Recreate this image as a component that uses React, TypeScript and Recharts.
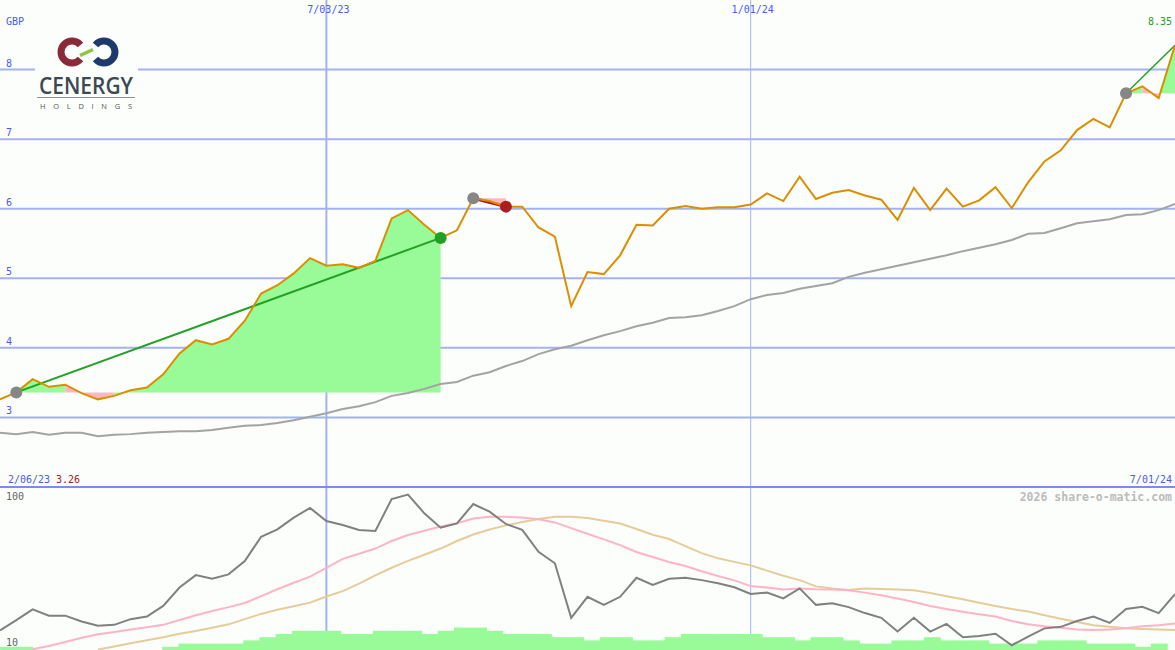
import { ComposedChart, Line, Area, Bar, XAxis, YAxis, CartesianGrid } from "recharts";

const W = 1175;
const MAIN_H = 487;
const LOW_H = 162;
const BG = "#fbfefb";
const GRID = "#a4b2f2";
const BLUE_TEXT = "#4a5af0";
const GREEN_FILL = "#98fb98";
const PINK_FILL = "#ffb6c1";

// weekly closes, GBP
const price = [
  3.26, 3.36, 3.55, 3.44, 3.47, 3.35, 3.26, 3.31, 3.39, 3.43,
  3.62, 3.92, 4.11, 4.05, 4.13, 4.39, 4.78, 4.9, 5.07, 5.29,
  5.18, 5.2, 5.15, 5.25, 5.86, 5.98, 5.77, 5.58, 5.69, 6.15,
  6.11, 6.03, 6.03, 5.73, 5.6, 4.6, 5.09, 5.06, 5.33, 5.77,
  5.76, 6.0, 6.04, 6.0, 6.02, 6.02, 6.06, 6.22, 6.11, 6.46,
  6.14, 6.23, 6.27, 6.19, 6.13, 5.84, 6.3, 5.98, 6.29, 6.03,
  6.12, 6.31, 6.01, 6.38, 6.68, 6.84, 7.13, 7.29, 7.17, 7.66,
  7.76, 7.59, 8.35,
];

// long moving average (grey)
const slowAvg = [
  2.78, 2.76, 2.79, 2.75, 2.78, 2.78, 2.73, 2.75, 2.76, 2.78,
  2.79, 2.8, 2.8, 2.82, 2.85, 2.88, 2.89, 2.92, 2.96, 3.01,
  3.06, 3.12, 3.16, 3.22, 3.31, 3.35, 3.41, 3.48, 3.51, 3.6,
  3.65, 3.74, 3.81, 3.91, 3.98, 4.03, 4.11, 4.18, 4.24, 4.31,
  4.36, 4.43, 4.44, 4.47, 4.53, 4.6, 4.7, 4.76, 4.79, 4.85,
  4.89, 4.93, 5.02, 5.08, 5.13, 5.18, 5.23, 5.28, 5.33, 5.39,
  5.44, 5.49, 5.55, 5.64, 5.65, 5.72, 5.79, 5.82, 5.85, 5.91,
  5.92, 5.98, 6.07,
];

// lower panel (log scale 10..100)
const relStrength = [
  13.2, 15.3, 17.8, 16.3, 16.3, 15.0, 14.1, 14.3, 15.5, 16.1,
  18.7, 24.3, 29.0, 27.5, 29.3, 35.4, 50.0, 55.6, 65.6, 75.3,
  62.5, 59.1, 55.1, 54.3, 85.5, 91.0, 69.8, 56.9, 60.5, 79.6,
  71.4, 60.0, 55.1, 40.4, 34.3, 15.8, 21.3, 19.0, 21.3, 27.9,
  25.2, 27.5, 27.9, 27.0, 25.8, 24.4, 22.2, 22.6, 20.8, 24.0,
  19.0, 19.4, 18.4, 16.9, 15.8, 13.0, 15.8, 13.0, 14.5, 12.0,
  12.2, 12.6, 10.7, 12.1, 13.6, 13.9, 15.1, 16.1, 14.7, 17.9,
  18.5, 16.9, 22.1,
];

const relFast = [
  null, null, 10.1, 10.6, 11.2, 11.9, 12.5, 12.9, 13.4, 13.8,
  14.3, 15.3, 16.4, 17.4, 18.4, 19.5, 21.5, 23.7, 26.0, 28.4,
  32.1, 36.5, 39.3, 42.3, 47.1, 51.3, 54.5, 57.8, 60.6, 64.8,
  66.4, 66.4, 65.8, 64.1, 61.3, 56.5, 52.2, 48.2, 44.4, 40.3,
  37.5, 34.9, 33.0, 30.6, 28.6, 26.9, 24.8, 24.3, 23.6, 24.0,
  23.7, 23.6, 23.4, 22.6, 21.8, 20.8, 19.8, 18.7, 17.9, 17.2,
  16.6, 16.1, 15.1, 14.4, 14.0, 13.7, 13.4, 13.3, 13.4, 13.6,
  14.0, 14.2, 14.6,
];

const relSlow = [
  null, null, null, null, null, null, 10.06, 10.5, 11.0, 11.5,
  12.0, 12.6, 13.1, 13.7, 14.4, 15.5, 16.7, 17.7, 18.6, 19.6,
  21.4, 23.1, 25.7, 28.9, 32.2, 35.5, 38.7, 42.3, 47.1, 51.6,
  55.5, 58.8, 61.6, 64.4, 66.5, 66.5, 65.3, 62.8, 60.4, 55.8,
  51.5, 48.4, 43.8, 39.6, 36.8, 35.0, 33.3, 30.9, 28.7, 27.0,
  24.7, 24.0, 23.5, 24.0, 23.8, 23.6, 23.4, 22.5, 21.5, 20.6,
  19.6, 18.7, 17.9, 17.3, 16.4, 15.6, 14.9, 14.2, 13.9, 13.6,
  13.5, 13.4, 13.3,
];

const volume = [
  1, 1, 0, 0, 0, 0, 0, 0, 0, 0,
  1, 2, 2, 2, 2, 3, 4, 5, 6, 6,
  6, 5, 5, 6, 6, 6, 5, 6, 7, 7,
  6, 5, 5, 5, 4, 4, 3, 4, 4, 3,
  3, 4, 5, 5, 5, 5, 5, 4, 4, 3,
  4, 4, 3, 2, 2, 3, 3, 4, 3, 3,
  3, 2, 2, 2, 3, 3, 3, 2, 2, 2,
  1, 2, null,
];

const priceTicks = [3, 4, 5, 6, 7, 8];
const dateLines = [
  { k: 20, label: "7/03/23", width: 2 },
  { k: 46, label: "1/01/24", width: 1 },
];
const firstDate = "2/06/23";
const lastDate = "7/01/24";

const trends = [
  { from: 1, to: 27, color: "#24a024", width: 2, end: "#22a022" as string | null },
  { from: 29, to: 31, color: "#a81c1c", width: 3, end: "#aa1e1e" as string | null },
  { from: 69, to: 72, color: "#24a024", width: 1.5, end: null as string | null },
];

const LAST = price.length - 1;
const Y_MIN = 2;
const Y_MAX = 9;
const yMain = (v: number) => ((Y_MAX - v) / (Y_MAX - Y_MIN)) * MAIN_H;
const xOf = (k: number) => (k / LAST) * W;

// fill runs between price and the level at the trend start
type Run = { t: number; color: string; from: number; to: number; base: number };
const runs: Run[] = [];
trends.forEach((t, ti) => {
  const base = price[t.from];
  for (let i = t.from; i < t.to; i++) {
    const color = price[i + 1] < base ? PINK_FILL : GREEN_FILL;
    const last = runs[runs.length - 1];
    if (last && last.t === ti && last.color === color && last.to === i) last.to = i + 1;
    else runs.push({ t: ti, color, from: i, to: i + 1, base });
  }
});

const rows = price.map((p, i) => {
  const row: Record<string, any> = {
    k: i,
    kb: i + 0.5,
    price: p,
    slow: slowAvg[i],
    rel: relStrength[i],
    relFast: relFast[i],
    relSlow: relSlow[i],
    vol: volume[i] ? volume[i] : null,
  };
  trends.forEach((t, ti) => {
    row[`trend${ti}`] = i === t.from || i === t.to ? p : null;
  });
  runs.forEach((r, ri) => {
    row[`run${ri}`] = i >= r.from && i <= r.to ? [r.base, p] : null;
  });
  return row;
});

const makeDot = (ti: number) => (props: any) => {
  const { cx, cy, index } = props;
  const t = trends[ti];
  if (cx == null || cy == null) return <g key={`n${ti}-${index}`} />;
  const fill = index === t.from ? "#868686" : index === t.to ? t.end : null;
  if (!fill) return <g key={`n${ti}-${index}`} />;
  return <circle key={`d${ti}-${index}`} cx={cx} cy={cy} r={6} fill={fill} />;
};

// weekly volume block spans a full week with no gap
const VolBlock = (p: any) => {
  if (!p.height || !isFinite(p.height)) return <g />;
  const bw = W / LAST;
  const cx = p.x + p.width / 2;
  return <rect x={cx - bw / 2} y={p.y} width={bw + 0.6} height={p.height} fill={GREEN_FILL} />;
};

function Logo() {
  return (
    <g>
      <rect x={35} y={30} width={103} height={82} fill={BG} />
      <path d="M 80.5 59 A 11 11 0 1 1 80.5 45" fill="none" stroke="#8a2a38" strokeWidth={7} />
      <path d="M 95.5 45 A 11 11 0 1 1 95.5 59" fill="none" stroke="#1e3a6d" strokeWidth={7} />
      <line x1={80} y1={55.5} x2={93} y2={49.5} stroke="#8cc63e" strokeWidth={3.5} />
      <text
        x={39}
        y={93.5}
        fontFamily="'Open Sans', sans-serif"
        fontWeight={600}
        fontSize={23.5}
        fill="#3c4954"
        textLength={94}
        lengthAdjust="spacingAndGlyphs"
      >
        CENERGY
      </text>
      <line x1={37} x2={135} y1={97.5} y2={97.5} stroke="#8a8f94" strokeWidth={1} />
      <text
        x={40}
        y={108.5}
        fontFamily="'Open Sans', sans-serif"
        fontSize={7.5}
        fill="#555"
        textLength={92}
        lengthAdjust="spacing"
      >
        HOLDINGS
      </text>
    </g>
  );
}

export default function App() {
  const mono = "'DejaVu Sans Mono', monospace";
  return (
    <div
      style={{
        position: "absolute",
        left: 0,
        top: 0,
        width: W,
        height: 650,
        background: BG,
        overflow: "hidden",
      }}
    >
      <div style={{ position: "absolute", left: 0, top: 0 }}>
        <ComposedChart width={W} height={MAIN_H} data={rows} margin={{ top: 0, right: 0, bottom: 0, left: 0 }}>
          <XAxis dataKey="k" type="number" domain={[0, LAST]} hide />
          <YAxis type="number" domain={[Y_MIN, Y_MAX]} hide allowDataOverflow />
          <CartesianGrid
            horizontalValues={priceTicks}
            verticalValues={dateLines.filter((d) => d.width === 2).map((d) => d.k)}
            stroke={GRID}
            strokeWidth={2}
          />
          <CartesianGrid
            horizontal={false}
            verticalValues={dateLines.filter((d) => d.width === 1).map((d) => d.k)}
            stroke={GRID}
            strokeWidth={1}
          />
          {runs.map((r, ri) => (
            <Area
              key={`run${ri}`}
              dataKey={`run${ri}`}
              type="linear"
              fill={r.color}
              fillOpacity={1}
              stroke="none"
              dot={false}
              activeDot={false}
              isAnimationActive={false}
            />
          ))}
          <Line
            dataKey="slow"
            type="linear"
            stroke="#a3a3a3"
            strokeWidth={2}
            dot={false}
            activeDot={false}
            isAnimationActive={false}
          />
          {trends.map((t, ti) => (
            <Line
              key={`trend${ti}`}
              dataKey={`trend${ti}`}
              type="linear"
              stroke={t.color}
              strokeWidth={t.width}
              connectNulls
              dot={makeDot(ti)}
              activeDot={false}
              isAnimationActive={false}
            />
          ))}
          <Line
            dataKey="price"
            type="linear"
            stroke="#dc8e00"
            strokeWidth={2}
            dot={false}
            activeDot={false}
            isAnimationActive={false}
          />
        </ComposedChart>
      </div>

      <div style={{ position: "absolute", left: 0, top: MAIN_H - 1, width: W, height: 2, background: "#7b8bf0" }} />

      <div style={{ position: "absolute", left: 0, top: MAIN_H + 1 }}>
        <ComposedChart width={W} height={LOW_H} data={rows} margin={{ top: 0, right: 0, bottom: 0, left: 0 }}>
          <XAxis dataKey="k" type="number" domain={[0, LAST]} hide />
          <XAxis xAxisId="bar" dataKey="kb" type="number" domain={[0, LAST]} hide />
          <YAxis scale="log" domain={[10, 100]} hide allowDataOverflow />
          <YAxis yAxisId="vol" type="number" domain={[0, 50.6]} hide />
          <CartesianGrid
            horizontal={false}
            verticalValues={dateLines.filter((d) => d.width === 2).map((d) => d.k)}
            stroke={GRID}
            strokeWidth={2}
          />
          <CartesianGrid
            horizontal={false}
            verticalValues={dateLines.filter((d) => d.width === 1).map((d) => d.k)}
            stroke={GRID}
            strokeWidth={1}
          />
          <Bar
            dataKey="vol"
            xAxisId="bar"
            yAxisId="vol"
            fill={GREEN_FILL}
            barSize={17}
            shape={VolBlock}
            isAnimationActive={false}
          />
          <Line
            dataKey="relSlow"
            type="linear"
            stroke="#e6cc9a"
            strokeWidth={2}
            dot={false}
            activeDot={false}
            isAnimationActive={false}
          />
          <Line
            dataKey="relFast"
            type="linear"
            stroke="#ffb3c6"
            strokeWidth={2}
            dot={false}
            activeDot={false}
            isAnimationActive={false}
          />
          <Line
            dataKey="rel"
            type="linear"
            stroke="#808080"
            strokeWidth={2}
            dot={false}
            activeDot={false}
            isAnimationActive={false}
          />
        </ComposedChart>
      </div>

      <svg
        width={W}
        height={650}
        style={{ position: "absolute", left: 0, top: 0, pointerEvents: "none" }}
        fontFamily={mono}
        fontSize={10}
      >
        <Logo />
        <text x={6} y={25} fill={BLUE_TEXT}>GBP</text>
        {priceTicks.map((v) => (
          <text key={v} x={6} y={yMain(v) - 3} fill={BLUE_TEXT}>
            {v}
          </text>
        ))}
        {dateLines.map((d) => (
          <text key={d.label} x={xOf(d.k) + 2} y={13} fill={BLUE_TEXT} textAnchor="middle">
            {d.label}
          </text>
        ))}
        <text x={1172} y={25} fill="#22a022" textAnchor="end">
          {price[LAST].toFixed(2)}
        </text>
        <text x={8} y={483} fill={BLUE_TEXT}>{firstDate}</text>
        <text x={56} y={483} fill="#a01c1c">{price[0].toFixed(2)}</text>
        <text x={1172} y={483} fill={BLUE_TEXT} textAnchor="end">{lastDate}</text>
        <text x={1172} y={500.5} fill="#bbbbbb" textAnchor="end" fontSize={11.5} fontWeight="bold">
          2026 share-o-matic.com
        </text>
        <text x={6} y={499.5} fill="#666">100</text>
        <text x={6} y={646} fill="#666">10</text>
      </svg>
    </div>
  );
}
